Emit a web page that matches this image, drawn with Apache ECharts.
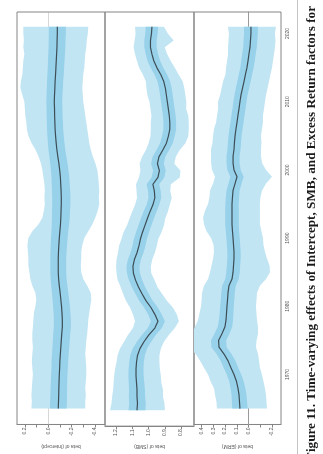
<!DOCTYPE html>
<html>
<head>
<meta charset="utf-8">
<script src="https://cdn.jsdelivr.net/npm/echarts@6/dist/echarts.min.js"></script>
<style>
  html, body { margin: 0; padding: 0; background: #ffffff; }
  #chart { width: 323px; height: 454px; }
</style>
</head>
<body>
<div id="chart"></div>
<script>
// Years of the time-varying estimates (1965 - 2021)
const years = [1965,1966,1967,1968,1969,1970,1971,1972,1973,1974,
  1975,1976,1977,1978,1979,1980,1981,1982,1983,1984,
  1985,1986,1987,1988,1989,1990,1991,1992,1993,1994,
  1995,1996,1997,1998,1999,2000,2001,2002,2003,2004,
  2005,2006,2007,2008,2009,2010,2011,2012,2013,2014,
  2015,2016,2017,2018,2019,2020,2021];
const yearTicks = [1970, 1980, 1990, 2000, 2010, 2020];

// Intercept: posterior mean, outer interval, inner half-width
const interceptMean = [-0.085,-0.087,-0.089,-0.090,-0.092,-0.094,-0.097,-0.099,-0.103,-0.107,
  -0.111,-0.115,-0.120,-0.120,-0.117,-0.113,-0.107,-0.101,-0.094,-0.088,
  -0.085,-0.085,-0.085,-0.087,-0.090,-0.094,-0.099,-0.104,-0.107,-0.109,
  -0.111,-0.111,-0.109,-0.106,-0.103,-0.097,-0.090,-0.081,-0.073,-0.067,
  -0.062,-0.058,-0.056,-0.054,-0.053,-0.051,-0.053,-0.056,-0.058,-0.062,
  -0.065,-0.068,-0.071,-0.074,-0.075,-0.077,-0.077];
const interceptUpper = [0.145,0.141,0.145,0.141,0.137,0.132,0.137,0.141,0.137,0.132,
  0.137,0.137,0.132,0.128,0.124,0.111,0.103,0.111,0.137,0.154,
  0.162,0.171,0.171,0.175,0.179,0.171,0.137,0.085,0.051,0.038,
  0.030,0.034,0.030,0.034,0.043,0.051,0.064,0.085,0.111,0.145,
  0.171,0.184,0.188,0.197,0.201,0.205,0.222,0.239,0.235,0.222,
  0.218,0.214,0.205,0.214,0.209,0.214,0.214];
const interceptLower = [-0.316,-0.316,-0.321,-0.316,-0.321,-0.325,-0.325,-0.321,-0.316,-0.321,
  -0.325,-0.333,-0.338,-0.342,-0.350,-0.359,-0.368,-0.363,-0.333,-0.299,
  -0.282,-0.278,-0.282,-0.282,-0.291,-0.308,-0.342,-0.376,-0.402,-0.423,
  -0.436,-0.432,-0.436,-0.432,-0.427,-0.419,-0.402,-0.380,-0.363,-0.350,
  -0.342,-0.333,-0.325,-0.316,-0.308,-0.299,-0.295,-0.291,-0.295,-0.299,
  -0.308,-0.312,-0.316,-0.325,-0.329,-0.338,-0.342];
const interceptInner = [0.072,0.072,0.071,0.071,0.070,0.070,0.070,0.071,0.071,0.072,
  0.072,0.073,0.073,0.073,0.072,0.072,0.071,0.070,0.069,0.068,
  0.068,0.068,0.068,0.069,0.070,0.071,0.072,0.074,0.076,0.077,
  0.078,0.078,0.078,0.077,0.076,0.075,0.074,0.073,0.072,0.071,
  0.070,0.069,0.069,0.068,0.068,0.068,0.068,0.069,0.069,0.070,
  0.070,0.071,0.071,0.072,0.072,0.073,0.073];

// SMB
const smbMean = [1.071,1.068,1.071,1.071,1.074,1.077,1.077,1.074,1.068,1.053,
  1.028,0.998,0.961,0.942,0.961,0.985,1.016,1.040,1.062,1.080,
  1.093,1.096,1.087,1.071,1.059,1.050,1.037,1.022,1.007,0.991,
  0.973,0.961,0.964,0.973,0.942,0.933,0.945,0.936,0.912,0.890,
  0.878,0.869,0.869,0.872,0.878,0.884,0.890,0.896,0.906,0.924,
  0.948,0.967,0.979,0.988,0.988,0.982,0.979];
const smbUpper = [1.237,1.228,1.224,1.218,1.215,1.212,1.206,1.197,1.191,1.176,
  1.151,1.127,1.096,1.083,1.096,1.114,1.139,1.157,1.172,1.190,
  1.197,1.200,1.197,1.188,1.182,1.167,1.154,1.132,1.117,1.101,
  1.083,1.071,1.074,1.077,1.059,1.050,1.055,1.040,1.016,1.000,
  0.988,0.986,0.986,0.982,0.988,0.994,1.007,1.013,1.016,1.034,
  1.058,1.071,1.083,1.092,1.086,1.080,1.083];
const smbLower = [0.899,0.902,0.911,0.911,0.921,0.924,0.930,0.933,0.933,0.924,
  0.905,0.875,0.838,0.813,0.826,0.850,0.887,0.917,0.945,0.963,
  0.983,0.986,0.977,0.961,0.949,0.940,0.920,0.905,0.897,0.881,
  0.869,0.857,0.866,0.863,0.807,0.804,0.841,0.832,0.808,0.773,
  0.755,0.752,0.752,0.755,0.768,0.767,0.773,0.779,0.789,0.814,
  0.838,0.863,0.885,0.900,0.845,0.880,0.905];
const smbInner = [0.052,0.051,0.050,0.049,0.048,0.047,0.046,0.045,0.045,0.044,
  0.044,0.043,0.043,0.043,0.042,0.042,0.042,0.041,0.041,0.041,
  0.040,0.040,0.040,0.040,0.040,0.040,0.040,0.040,0.040,0.040,
  0.039,0.039,0.039,0.039,0.039,0.039,0.039,0.039,0.039,0.039,
  0.039,0.039,0.039,0.039,0.039,0.039,0.039,0.039,0.039,0.039,
  0.039,0.039,0.038,0.038,0.038,0.038,0.038];

// Excess Return
const ermMean = [0.073,0.077,0.081,0.090,0.103,0.124,0.150,0.175,0.209,0.252,
  0.256,0.226,0.201,0.192,0.188,0.184,0.179,0.175,0.167,0.141,
  0.132,0.128,0.124,0.124,0.128,0.132,0.137,0.141,0.141,0.141,
  0.141,0.137,0.132,0.115,0.098,0.124,0.132,0.132,0.124,0.120,
  0.115,0.107,0.098,0.090,0.081,0.073,0.064,0.051,0.038,0.026,
  0.013,0.004,-0.004,-0.013,-0.017,-0.021,-0.021];
const ermUpper = [0.270,0.274,0.286,0.295,0.325,0.346,0.381,0.414,0.451,0.508,
  0.512,0.482,0.457,0.431,0.419,0.406,0.401,0.397,0.381,0.346,
  0.329,0.316,0.303,0.295,0.299,0.320,0.359,0.380,0.389,0.372,
  0.346,0.334,0.329,0.303,0.286,0.312,0.320,0.320,0.321,0.308,
  0.303,0.295,0.277,0.269,0.260,0.261,0.243,0.230,0.217,0.197,
  0.192,0.183,0.175,0.175,0.171,0.167,0.176];
const ermLower = [-0.158,-0.154,-0.150,-0.141,-0.128,-0.115,-0.098,-0.090,-0.082,-0.064,
  -0.069,-0.082,-0.081,-0.073,-0.068,-0.064,-0.069,-0.073,-0.098,-0.150,
  -0.184,-0.180,-0.158,-0.141,-0.128,-0.124,-0.111,-0.098,-0.098,-0.098,
  -0.098,-0.102,-0.116,-0.150,-0.201,-0.150,-0.116,-0.107,-0.107,-0.111,
  -0.107,-0.115,-0.124,-0.124,-0.133,-0.141,-0.150,-0.163,-0.176,-0.188,
  -0.201,-0.210,-0.218,-0.227,-0.231,-0.226,-0.235];
const ermInner = [0.066,0.065,0.064,0.063,0.062,0.062,0.062,0.063,0.064,0.065,
  0.065,0.064,0.062,0.060,0.059,0.058,0.058,0.058,0.058,0.058,
  0.058,0.057,0.057,0.057,0.057,0.057,0.057,0.058,0.058,0.058,
  0.057,0.057,0.056,0.056,0.057,0.057,0.056,0.056,0.056,0.056,
  0.056,0.056,0.056,0.056,0.056,0.056,0.056,0.057,0.057,0.057,
  0.057,0.058,0.058,0.058,0.059,0.059,0.060];

// Value-axis ticks and labels of each panel
const interceptTicks = [0.2, 0.1, 0, -0.1, -0.2, -0.3, -0.4];
const interceptTickLabels = [0.2, 0, -0.2, -0.4];
const smbTicks = [1.2, 1.1, 1.0, 0.9, 0.8];
const smbTickLabels = [1.2, 1.1, 1.0, 0.9, 0.8];
const ermTicks = [0.4, 0.3, 0.2, 0.1, 0, -0.1, -0.2];
const ermTickLabels = [0.4, 0.3, 0.2, 0.1, 0, -0.2];

const panels = [
  { title: 'beta of (Intercept)', mean: interceptMean, upper: interceptUpper, lower: interceptLower,
    inner: interceptInner, ticks: interceptTicks, tickLabels: interceptTickLabels,
    left: 17, width: 88, min: -0.485, max: 0.268, zero: true },
  { title: 'beta of (SMB)', mean: smbMean, upper: smbUpper, lower: smbLower,
    inner: smbInner, ticks: smbTicks, tickLabels: smbTickLabels,
    left: 105, width: 89, min: 0.72, max: 1.268, zero: false },
  { title: 'beta of (ERM)', mean: ermMean, upper: ermUpper, lower: ermLower,
    inner: ermInner, ticks: ermTicks, tickLabels: ermTickLabels,
    left: 194, width: 87, min: -0.278, max: 0.466, zero: true }
];

const OUTER = '#c2e5f4';
const INNER = '#97d1ea';
const LINE = '#3c4d55';
const FRAME = '#858585';
const TXT = '#555555';
const FONT = 'Liberation Sans';
const YEAR_MIN = 1962.67, YEAR_MAX = 2023.16;

function band(i, hi, lo, color, z) {
  return {
    type: 'custom', xAxisIndex: i, yAxisIndex: i, z: z, silent: true,
    data: [[hi[0], years[0]]],
    renderItem: function (params, api) {
      const pts = [];
      for (let k = 0; k < years.length; k++) pts.push(api.coord([hi[k], years[k]]));
      for (let k = years.length - 1; k >= 0; k--) pts.push(api.coord([lo[k], years[k]]));
      const cs = params.coordSys;
      return {
        type: 'group',
        clipPath: { type: 'rect', shape: { x: cs.x, y: cs.y, width: cs.width, height: cs.height } },
        children: [{ type: 'polygon', shape: { points: pts }, style: { fill: color } }]
      };
    }
  };
}

const grid = [], xAxis = [], yAxis = [], series = [];
panels.forEach(function (p, i) {
  grid.push({ left: p.left, width: p.width, top: 12, bottom: 21, show: true,
    borderColor: FRAME, borderWidth: 1, backgroundColor: 'transparent' });
  xAxis.push({
    type: 'value', gridIndex: i, inverse: true, min: p.min, max: p.max, position: 'bottom',
    name: p.title, nameLocation: 'middle', nameGap: 17, nameRotate: 180,
    nameTextStyle: { fontSize: 5, color: TXT, fontFamily: FONT },
    axisLine: { show: true, onZero: false, lineStyle: { color: FRAME, width: 1 } },
    axisTick: { show: true, length: 3, customValues: p.ticks, lineStyle: { color: FRAME } },
    axisLabel: { show: true, rotate: 90, fontSize: 5, color: TXT, fontFamily: FONT, margin: 3,
      customValues: p.tickLabels, formatter: function (v) { return v.toFixed(1); } },
    splitLine: { show: false }
  });
  const isLast = i === panels.length - 1;
  yAxis.push({
    type: 'value', gridIndex: i, min: YEAR_MIN, max: YEAR_MAX, position: 'right',
    show: isLast,
    axisLine: { show: true, lineStyle: { color: FRAME, width: 1 } },
    axisTick: { show: true, length: 3, customValues: yearTicks, lineStyle: { color: FRAME } },
    axisLabel: { show: true, rotate: 90, fontSize: 5, color: TXT, fontFamily: FONT, margin: 4,
      customValues: yearTicks, formatter: function (v) { return String(v); } },
    splitLine: { show: false }
  });
  const innerHi = p.mean.map(function (m, k) { return m + p.inner[k]; });
  const innerLo = p.mean.map(function (m, k) { return m - p.inner[k]; });
  if (p.zero) {
    series.push({
      type: 'line', xAxisIndex: i, yAxisIndex: i, data: [], z: 1, silent: true,
      markLine: { silent: true, symbol: 'none', z: 1, label: { show: false },
        lineStyle: { type: 'dotted', color: '#b0b0b0', width: 1 },
        data: [{ xAxis: 0 }] }
    });
  }
  series.push(band(i, p.upper, p.lower, OUTER, 2));
  series.push(band(i, innerHi, innerLo, INNER, 3));
  series.push({
    type: 'line', xAxisIndex: i, yAxisIndex: i, z: 5, silent: true,
    data: years.map(function (y, k) { return [p.mean[k], y]; }),
    showSymbol: false, symbol: 'none', smooth: false,
    lineStyle: { color: LINE, width: 1.2 }
  });
});

const chart = echarts.init(document.getElementById('chart'), null, { renderer: 'canvas' });
chart.setOption({
  animation: false,
  backgroundColor: '#ffffff',
  grid: grid, xAxis: xAxis, yAxis: yAxis, series: series,
  graphic: [
    { type: 'line', shape: { x1: 297.5, y1: 0, x2: 297.5, y2: 454 },
      style: { stroke: '#c4c4c4', lineWidth: 1 } },
    { type: 'text', x: 312, y: 6, rotation: Math.PI / 2,
      style: { text: 'Figure 11. Time-varying effects of Intercept, SMB, and Excess Return factors for',
        font: 'bold 13.2px "Liberation Serif"', fill: '#1a1a1a', align: 'right', verticalAlign: 'middle' } }
  ]
});
</script>
</body>
</html>
